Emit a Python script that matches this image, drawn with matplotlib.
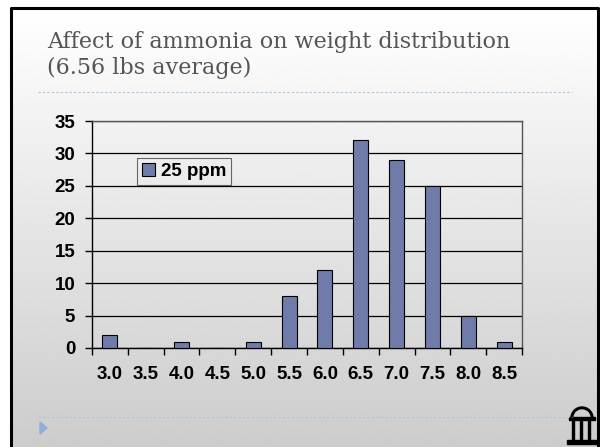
import numpy as np
import matplotlib.pyplot as plt
from matplotlib.patches import Rectangle, Polygon, Wedge

weights = ["3.0", "3.5", "4.0", "4.5", "5.0", "5.5", "6.0", "6.5", "7.0", "7.5", "8.0", "8.5"]
counts = [2, 0, 1, 0, 1, 8, 12, 32, 29, 25, 5, 1]
series_name = "25 ppm"
title = "Affect of ammonia on weight distribution\n(6.56 lbs average)"

W, H = 600, 447
fig = plt.figure(figsize=(6, 4.47), dpi=100)

# slide background: light gradient with a black frame
bg = fig.add_axes([0, 0, 1, 1])
bg.set_xlim(0, W)
bg.set_ylim(H, 0)
bg.axis("off")
grad = np.linspace(1.0, 0.80, 256).reshape(-1, 1)
bg.imshow(grad, cmap="gray", vmin=0, vmax=1, extent=[11, 598, H, 8], aspect="auto")
bg.plot([11, 11, 598, 598], [H, 8, 8, H], color="black", lw=2.2)
bg.text(47, 55, title, fontsize=16, family="DejaVu Serif", color="#555555",
        va="center", linespacing=1.2)
bg.plot([38, 572], [92, 92], color="#a9c4dc", lw=0.8, ls=(0, (2, 2)))
bg.plot([38, 572], [417, 417], color="#a9c4dc", lw=0.8, ls=(0, (2, 2)))
bg.add_patch(Polygon([[40, 422], [40, 434], [47, 428]], color="#8fb0d6"))

# little arch logo
bg.add_patch(Wedge((582, 418), 11, 180, 360, width=1.6, color="black"))
bg.add_patch(Rectangle((569, 417), 26, 2.5, color="black"))
for px in (572, 580, 588):
    bg.add_patch(Rectangle((px, 419), 2.2, 22, color="black"))
bg.add_patch(Rectangle((567, 440), 30, 4, color="black"))

# chart
ax = fig.add_axes([92 / W, 1 - 348 / H, (522 - 92) / W, (348 - 121) / H])
ax.set_facecolor("none")
x = np.arange(len(counts))
ax.bar(x, counts, width=0.42, color="#6f7ba8", edgecolor="black", linewidth=0.8,
       label=series_name, zorder=3)
ax.set_xlim(-0.5, len(counts) - 0.5)
ax.set_ylim(0, 35)
ax.set_yticks(np.arange(0, 36, 5))
ax.yaxis.grid(True, color="black", lw=0.9)
ax.set_axisbelow(True)
ax.set_xticks(x)
ax.set_xticklabels(weights)
ax.set_xticks(np.arange(-0.5, len(counts)), minor=True)
ax.tick_params(axis="x", which="major", length=0, pad=13)
ax.tick_params(axis="x", which="minor", length=5, width=1)
ax.tick_params(axis="y", length=5, width=1, pad=7)
for lab in ax.get_xticklabels() + ax.get_yticklabels():
    lab.set_fontweight("bold")
    lab.set_fontsize(13.5)
    lab.set_family("Liberation Sans")
for s in ax.spines.values():
    s.set_color("black")
    s.set_linewidth(1)
ax.spines["right"].set_color("#555555")
ax.spines["top"].set_color("#555555")

leg = ax.legend(loc="upper left", bbox_to_anchor=(0.105, 0.835), frameon=True, fancybox=False,
                prop={"weight": "bold", "size": 13.5, "family": "Liberation Sans"},
                handlelength=0.7, handleheight=0.7, handletextpad=0.3,
                borderpad=0.25, borderaxespad=0)
leg.get_frame().set_edgecolor("#444444")
leg.get_frame().set_facecolor("none")
leg.get_frame().set_linewidth(0.8)

fig.savefig("out.png", dpi=100)
